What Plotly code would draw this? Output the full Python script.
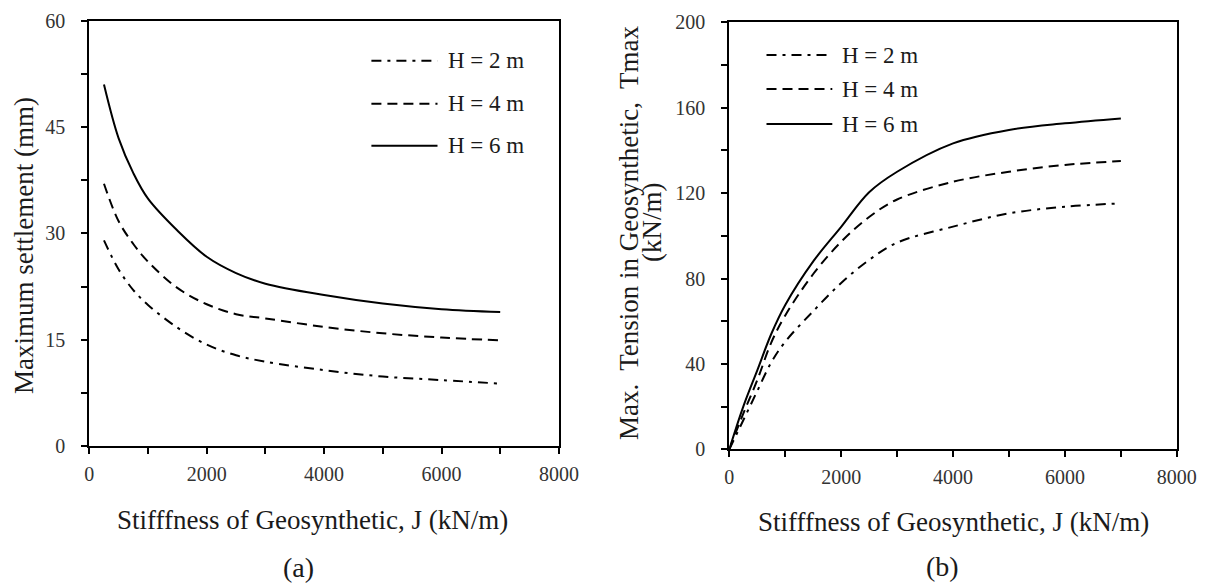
import plotly.graph_objects as go

# ---- data ----------------------------------------------------------------
heights = ["H = 2 m", "H = 4 m", "H = 6 m"]

# (a) maximum settlement (mm) against geosynthetic stiffness J (kN/m)
stiffness_a = [250, 500, 750, 1000, 1500, 2000, 2500, 3000, 4000, 5000, 6000, 7000]
settle_h2 = [29.0, 24.9, 22.0, 19.9, 16.7, 14.3, 12.8, 11.9, 10.7, 9.8, 9.3, 8.8]
settle_h4 = [37.0, 31.7, 28.5, 26.0, 22.3, 20.0, 18.6, 18.0, 16.8, 15.9, 15.3, 14.9]
settle_h6 = [51.0, 43.4, 38.5, 34.9, 30.4, 26.7, 24.4, 22.9, 21.3, 20.1, 19.3, 18.9]

# (b) maximum tension in geosynthetic (kN/m) against stiffness J (kN/m)
stiffness_b = [0, 250, 500, 750, 1000, 1500, 2000, 2500, 3000, 4000, 5000, 6000, 7000]
tension_h2 = [0, 13.6, 27.3, 40.7, 50.4, 64.7, 77.9, 88.7, 96.8, 104.3, 110.5, 113.6, 115.2]
tension_h4 = [0, 16.7, 32.4, 50.0, 62.7, 82.1, 97.2, 108.8, 117.0, 125.3, 130.0, 133.2, 135.0]
tension_h6 = [0, 20.0, 37.0, 54.0, 67.6, 88.0, 104.2, 120.4, 130.0, 143.3, 149.6, 152.7, 155.0]

x_ticks = [0, 2000, 4000, 6000, 8000]
ya_ticks = [0, 15, 30, 45, 60]
yb_ticks = [0, 40, 80, 120, 160, 200]

# ---- styling -------------------------------------------------------------
W, H = 1207, 585
FONT = "Liberation Serif"
INK = "#1a1a1a"
dashes = ["10px,6px,3px,6px", "10px,6px", "solid"]


def px(x):
    return x / W


def py(y):
    return 1 - y / H


fig = go.Figure()

for name, dash, ya in zip(heights, dashes, [settle_h2, settle_h4, settle_h6]):
    fig.add_trace(go.Scatter(x=stiffness_a, y=ya, mode="lines", name=name,
                             line=dict(color="black", width=2, dash=dash,
                                       shape="spline", smoothing=1.0),
                             xaxis="x", yaxis="y", showlegend=False))
for name, dash, yb in zip(heights, dashes, [tension_h2, tension_h4, tension_h6]):
    fig.add_trace(go.Scatter(x=stiffness_b, y=yb, mode="lines", name=name,
                             line=dict(color="black", width=2, dash=dash,
                                       shape="spline", smoothing=1.0),
                             xaxis="x2", yaxis="y2", showlegend=False))

tickfont = dict(family=FONT, size=20, color="#333333")
minor_tick = dict(ticks="outside", ticklen=6, tickwidth=2, tickcolor="black")
axis_common = dict(showline=True, linecolor="black", linewidth=2, mirror=True,
                   ticks="outside", ticklen=6, tickwidth=2, tickcolor="black",
                   showgrid=False, zeroline=False, tickfont=tickfont,
                   automargin=False)
x_common = dict(range=[0, 8000], tickvals=x_ticks, ticklabelstandoff=3,
                minor=dict(dtick=1000, **minor_tick), **axis_common)

fig.update_layout(
    width=W, height=H,
    margin=dict(l=0, r=0, t=0, b=0, pad=0, autoexpand=False),
    paper_bgcolor="white", plot_bgcolor="white",
    xaxis=dict(domain=[px(89.3), px(558.9)], anchor="y", **x_common),
    yaxis=dict(domain=[py(446), py(20.7)], range=[0, 60], anchor="x",
               tickvals=ya_ticks, ticklabelstandoff=12,
               minor=dict(dtick=7.5, **minor_tick), **axis_common),
    xaxis2=dict(domain=[px(729.3), px(1176.8)], anchor="y2", **x_common),
    yaxis2=dict(domain=[py(449.3), py(22.3)], range=[0, 200], anchor="x2",
                tickvals=yb_ticks, ticklabelstandoff=12,
                minor=dict(dtick=20, **minor_tick), **axis_common),
)

title_font = dict(family=FONT, size=27, color=INK)
annotations = [
    dict(text="Maximum settlement (mm)", x=24, y=246, textangle=-90),
    dict(text="Max.  Tension in Geosynthetic,  Tmax", x=629, y=233, textangle=-90),
    dict(text="(kN/m)", x=652, y=223, textangle=-90),
    dict(text="Stifffness of Geosynthetic, J (kN/m)", x=312.5, y=520),
    dict(text="Stifffness of Geosynthetic, J (kN/m)", x=953, y=521.5),
    dict(text="(a)", x=298, y=567, font=dict(family=FONT, size=28, color=INK)),
    dict(text="(b)", x=942.6, y=566, font=dict(family=FONT, size=28, color=INK)),
]
for a in annotations:
    a.setdefault("font", title_font)
    a["x"], a["y"] = px(a["x"]), py(a["y"])
    fig.add_annotation(xref="paper", yref="paper", showarrow=False,
                       xanchor="center", yanchor="middle", **a)

# hand-placed legends for both panels
legend_font = dict(family=FONT, size=23, color=INK)
legend_boxes = [
    (371.4, 437.5, 446.4, [60.7, 103.7, 145.7]),
    (766.5, 832.3, 840.0, [55, 89, 124]),
]
for x0, x1, xt, rows in legend_boxes:
    for name, dash, yr in zip(heights, dashes, rows):
        fig.add_shape(type="line", xref="paper", yref="paper",
                      x0=px(x0), x1=px(x1), y0=py(yr), y1=py(yr),
                      line=dict(color="black", width=2, dash=dash))
        fig.add_annotation(xref="paper", yref="paper", showarrow=False,
                           text=name, x=px(xt), y=py(yr), xanchor="left",
                           yanchor="middle", font=legend_font)

fig.write_html("out.html")
